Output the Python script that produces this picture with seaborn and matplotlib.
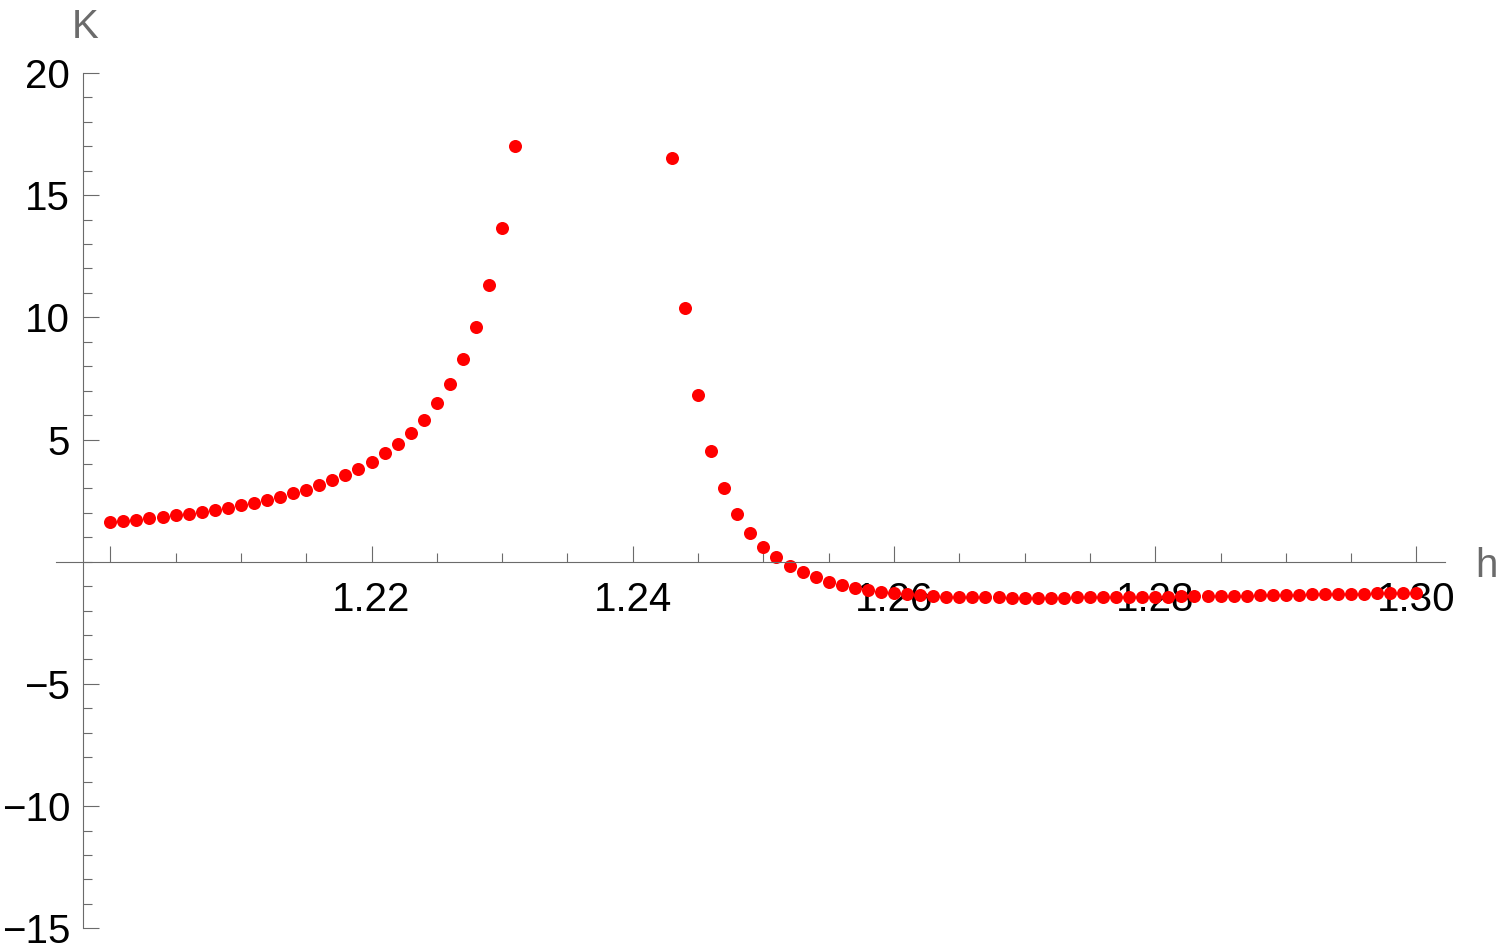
import pandas as pd
import seaborn as sns
import matplotlib.pyplot as plt
from matplotlib.ticker import FixedLocator, MultipleLocator

# K(h), two branches either side of the gap
h_left = [1.200, 1.201, 1.202, 1.203, 1.204, 1.205, 1.206, 1.207, 1.208, 1.209,
          1.210, 1.211, 1.212, 1.213, 1.214, 1.215, 1.216, 1.217, 1.218, 1.219,
          1.220, 1.221, 1.222, 1.223, 1.224, 1.225, 1.226, 1.227, 1.228, 1.229,
          1.230, 1.231]
k_left = [1.62, 1.68, 1.72, 1.77, 1.83, 1.90, 1.95, 2.03, 2.13, 2.21,
          2.32, 2.40, 2.52, 2.65, 2.80, 2.95, 3.14, 3.34, 3.57, 3.80,
          4.07, 4.43, 4.82, 5.27, 5.82, 6.48, 7.28, 8.30, 9.60, 11.34,
          13.67, 17.03]

h_right = [1.243, 1.244, 1.245, 1.246, 1.247, 1.248, 1.249, 1.250, 1.251, 1.252,
           1.253, 1.254, 1.255, 1.256, 1.257, 1.258, 1.259, 1.260, 1.261, 1.262,
           1.263, 1.264, 1.265, 1.266, 1.267, 1.268, 1.269, 1.270, 1.271, 1.272,
           1.273, 1.274, 1.275, 1.276, 1.277, 1.278, 1.279, 1.280, 1.281, 1.282,
           1.283, 1.284, 1.285, 1.286, 1.287, 1.288, 1.289, 1.290, 1.291, 1.292,
           1.293, 1.294, 1.295, 1.296, 1.297, 1.298, 1.299, 1.300]
k_right = [16.53, 10.38, 6.82, 4.55, 3.00, 1.95, 1.16, 0.60, 0.18, -0.18,
           -0.43, -0.64, -0.81, -0.94, -1.07, -1.16, -1.23, -1.29, -1.34, -1.38,
           -1.41, -1.43, -1.44, -1.45, -1.46, -1.46, -1.47, -1.47, -1.47, -1.47,
           -1.47, -1.46, -1.46, -1.46, -1.45, -1.45, -1.44, -1.44, -1.43, -1.42,
           -1.42, -1.41, -1.40, -1.39, -1.39, -1.38, -1.37, -1.36, -1.35, -1.34,
           -1.33, -1.32, -1.31, -1.30, -1.29, -1.28, -1.27, -1.26]

x_ticks = [1.20, 1.22, 1.24, 1.26, 1.28, 1.30]
x_tick_labels = ['', '1.22', '1.24', '1.26', '1.28', '1.30']
y_ticks = [-15, -10, -5, 5, 10, 15, 20]
y_tick_labels = ['\u221215', '\u221210', '\u22125', '5', '10', '15', '20']

df = pd.DataFrame({'h': h_left + h_right, 'K': k_left + k_right})

sns.set_style('white')
plt.rcParams['font.family'] = ['Liberation Sans', 'DejaVu Sans']

gray = '#6b6b6b'
fig = plt.figure(figsize=(15, 9.52), dpi=100)
ax = fig.add_axes([56 / 1500, 23.7 / 952, 1389 / 1500, 855.3 / 952])

sns.scatterplot(data=df, x='h', y='K', color='#ff0000', s=88, linewidth=0,
                ax=ax, legend=False)

ax.set_xlim(1.195843, 1.302182)
ax.set_ylim(-15, 20)
ax.set_xlabel('')
ax.set_ylabel('')

for side in ['top', 'right']:
    ax.spines[side].set_visible(False)
ax.spines['left'].set_position(('data', 1.197933))
ax.spines['bottom'].set_position(('data', 0))
for side in ['left', 'bottom']:
    ax.spines[side].set_color(gray)
    ax.spines[side].set_linewidth(0.8)

ax.xaxis.set_major_locator(FixedLocator(x_ticks))
ax.set_xticklabels(x_tick_labels)
ax.xaxis.set_minor_locator(MultipleLocator(0.005))
ax.yaxis.set_major_locator(FixedLocator(y_ticks))
ax.set_yticklabels(y_tick_labels)
ax.yaxis.set_minor_locator(MultipleLocator(1))

ax.tick_params(which='both', bottom=True, left=True, top=False, right=False,
               direction='in', color=gray, width=0.8,
               labelsize=29, labelcolor='black')
ax.tick_params(which='major', length=11.5)
ax.tick_params(which='minor', length=6.5)
ax.tick_params(axis='x', which='major', pad=14)
ax.tick_params(axis='y', which='major', pad=9.5)

fig.text(85 / 1500, 1 - 37.7 / 952, 'K', ha='center', va='baseline',
         fontsize=29, color=gray)
fig.text(1475 / 1500, 1 - 577 / 952, 'h', ha='left', va='baseline',
         fontsize=29, color=gray)

fig.savefig('out.png', dpi=100)
